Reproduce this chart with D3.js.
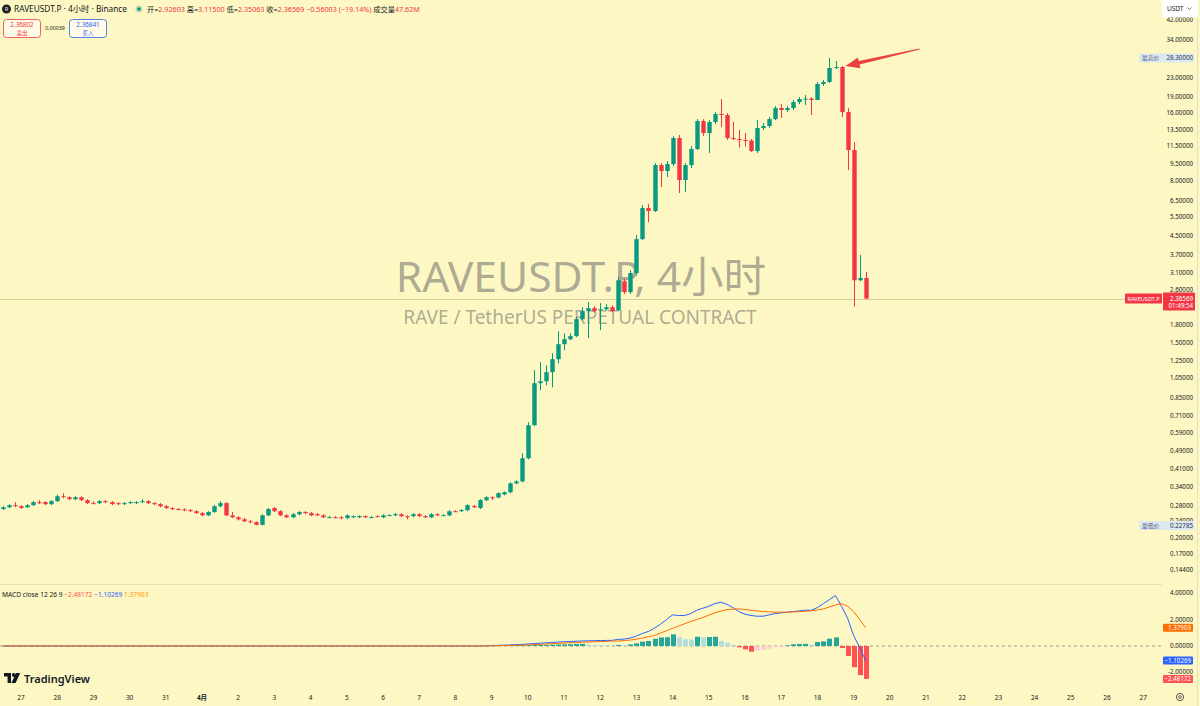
<!DOCTYPE html>
<html>
<head>
<meta charset="utf-8">
<script src="https://cdn.jsdelivr.net/npm/d3@7"></script>
<style>
  body { margin: 0; background: #fdf7c3; }
  svg { display: block; font-family: "Noto Sans", "Noto Sans CJK SC", sans-serif; }
</style>
</head>
<body>
<div id="chart"></div>
<script>
// RAVEUSDT.P 4h candles, 26 Mar 12:00 -> 19 Apr 08:00 (one value per candle)
const open = [
  .270,.275,.281,.278,.275,.281,.290,.290,.284,.293,.308,.305,.299,.305,.296,.287,.287,.293,.290,.287,
  .284,.287,.287,.290,.293,.287,.284,.278,.273,.270,.269,.267,.264,.259,.253,.262,.278,.287,.253,.248,
  .243,.238,.236,.2295,.253,.273,.264,.253,.248,.256,.262,.259,.256,.253,.248,.248,.248,.246,.248,.248,
  .251,.248,.251,.248,.253,.253,.256,.251,.251,.256,.251,.248,.256,.253,.253,.264,.264,.267,.279,.273,
  .296,.305,.304,.314,.321,.352,.359,.456,.641,.989,1.009,1.108,1.267,1.479,1.557,1.607,1.914,2.080,2.144,2.100,
  2.120,2.165,2.100,2.830,2.530,3.080,4.370,6.020,5.840,9.380,8.820,9.480,12.40,8.040,9.380,11.07,14.77,13.05,14.62,15.88,
  15.72,12.40,12.27,12.14,12.08,10.84,13.74,14.03,15.07,16.89,16.55,16.89,17.97,18.54,18.63,18.35,21.64,22.10,25.53,25.79,
  16.20,10.95,2.860,2.92603
];
const high = [
  .278,.284,.290,.281,.284,.293,.296,.293,.296,.314,.318,.308,.308,.308,.299,.293,.296,.296,.293,.290,
  .290,.293,.293,.299,.296,.290,.287,.281,.275,.273,.272,.270,.267,.262,.264,.281,.293,.290,.262,.251,
  .246,.241,.238,.256,.273,.275,.267,.256,.259,.264,.264,.262,.259,.256,.251,.251,.251,.256,.253,.253,
  .253,.251,.253,.256,.256,.259,.259,.253,.259,.259,.253,.259,.259,.256,.267,.267,.270,.284,.281,.299,
  .308,.308,.321,.324,.356,.363,.480,.661,1.130,1.228,1.190,1.348,1.691,1.656,1.656,1.954,2.165,2.281,2.190,2.257,
  2.233,2.210,2.955,2.890,3.170,4.560,6.210,6.270,9.570,9.570,9.780,12.65,12.79,9.570,11.41,15.07,15.07,14.92,16.20,18.54,
  16.04,14.62,13.46,13.05,12.27,14.92,14.46,15.40,17.24,17.60,17.24,18.35,18.92,19.32,18.92,22.10,22.55,28.30,27.43,26.06,
  16.89,11.89,3.710,3.11500
];
const low = [
  .267,.273,.275,.270,.273,.279,.284,.281,.281,.290,.302,.296,.296,.293,.284,.284,.284,.287,.281,.281,
  .281,.284,.284,.287,.284,.281,.275,.270,.267,.267,.264,.262,.256,.251,.251,.259,.275,.251,.246,.240,
  .236,.233,.2285,.22785,.251,.262,.251,.246,.246,.253,.256,.251,.251,.246,.246,.246,.243,.243,.246,.246,
  .246,.246,.248,.246,.251,.251,.248,.243,.248,.248,.246,.246,.251,.251,.251,.262,.262,.264,.273,.270,
  .293,.296,.302,.311,.318,.349,.356,.451,.635,.919,.968,.948,1.214,1.390,1.541,1.590,1.894,1.574,2.060,1.709,
  2.100,2.060,2.080,2.480,2.480,3.010,4.330,5.210,5.780,7.480,8.290,9.290,7.030,7.100,9.100,10.95,12.66,10.62,14.31,13.88,
  12.14,12.14,11.24,11.35,10.73,10.62,13.46,13.74,14.92,15.24,16.20,16.55,17.60,17.42,15.72,18.35,21.20,21.86,25.27,15.40,
  8.910,2.180,2.830,2.35063
];
const close = [
  .275,.281,.278,.273,.281,.290,.287,.284,.293,.308,.305,.299,.305,.296,.287,.286,.293,.290,.284,.285,
  .287,.290,.290,.293,.287,.284,.278,.273,.270,.269,.267,.264,.259,.253,.262,.278,.287,.253,.248,.243,
  .238,.236,.2295,.253,.270,.264,.253,.248,.256,.262,.259,.253,.253,.248,.2485,.2475,.246,.253,.251,.251,
  .248,.2485,.2505,.253,.2535,.256,.251,.2505,.256,.251,.248,.256,.253,.2535,.264,.2635,.267,.281,.275,.296,
  .305,.304,.318,.321,.352,.359,.456,.641,.989,1.009,1.108,1.267,1.479,1.557,1.607,1.914,2.080,2.144,2.080,2.120,
  2.165,2.080,2.860,2.530,3.080,4.370,6.020,5.840,9.380,8.820,9.480,12.40,8.040,9.380,11.07,14.77,13.05,14.62,15.88,15.72,
  12.40,12.27,12.14,12.08,10.84,13.74,14.03,15.07,16.89,16.55,16.89,17.97,18.54,18.63,18.35,21.64,22.10,25.53,25.79,16.20,
  10.95,2.860,2.92572,2.36569
];

const macdLine = [
  0,0,0,0,0,0,0,0,0,0,0,0,0,0,0,0,0,0,0,0, 0,0,0,0,0,0,0,0,0,0,0,0,0,0,0,0,0,0,0,0,
  0,0,0,0,0,0,0,0,0,0,0,0,0,0,0,0,0,0,0,0, 0,0,0,0,0,0,0,0,0,0,0,0,0,0,0,0,0,0,0,0,
  .01,.03,.05,.06,.08,.10,.12,.15,.18,.21,.24,.27,.30,.32,.34,.36,.38,.39,.40,.41,
  .42,.43,.50,.52,.60,.75,.95,1.10,1.35,1.65,2.00,2.35,2.30,2.30,2.45,2.70,2.85,3.00,3.20,3.30,
  3.15,2.90,2.60,2.40,2.30,2.25,2.25,2.35,2.45,2.50,2.55,2.60,2.65,2.70,2.70,2.90,3.20,3.50,3.80,3.00,
  2.10,.80,-.10,-1.10269
];
const signalLine = [
  0,0,0,0,0,0,0,0,0,0,0,0,0,0,0,0,0,0,0,0, 0,0,0,0,0,0,0,0,0,0,0,0,0,0,0,0,0,0,0,0,
  0,0,0,0,0,0,0,0,0,0,0,0,0,0,0,0,0,0,0,0, 0,0,0,0,0,0,0,0,0,0,0,0,0,0,0,0,0,0,0,0,
  0,.01,.02,.03,.04,.05,.06,.08,.10,.12,.15,.17,.20,.22,.24,.26,.28,.30,.32,.34,
  .35,.37,.38,.41,.45,.52,.60,.70,.80,.98,1.15,1.33,1.50,1.68,1.85,2.00,2.15,2.33,2.50,2.63,
  2.75,2.78,2.80,2.75,2.70,2.65,2.60,2.58,2.55,2.55,2.55,2.57,2.60,2.62,2.65,2.72,2.80,2.95,3.10,3.20,
  3.00,2.60,2.00,1.37903
];
const histogram = [
  0,0,0,0,0,0,0,0,0,0,0,0,0,0,0,0,0,0,0,0, 0,0,0,0,0,0,0,0,0,0,0,0,0,0,0,0,0,0,0,0,
  0,0,0,0,0,0,0,0,0,0,0,0,0,0,0,0,0,0,0,0, 0,0,0,0,0,0,0,0,0,0,0,0,0,0,0,0,0,0,0,0,
  .01,.02,.03,.035,.04,.045,.05,.06,.07,.08,.09,.10,.11,.12,.13,.15,.16,.10,.08,.06,
  .05,.04,.08,.07,.12,.20,.33,.38,.55,.65,.66,.88,.65,.50,.49,.70,.65,.68,.70,.38,
  .25,.10,-.10,-.25,-.43,-.35,-.30,-.20,-.08,-.05,.05,.13,.15,.16,.10,.30,.35,.55,.65,-.15,
  -.75,-1.60,-2.20,-2.48172
];

// right axis ticks
const priceTicks = [42, 34, 28, 23, 19, 16, 13.5, 11.5, 9.5, 8, 6.5, 5.5, 4.5, 3.7, 3.1, 2.6, 1.8, 1.5, 1.25, 1.05,
  0.85, 0.71, 0.59, 0.49, 0.41, 0.34, 0.28, 0.24, 0.2, 0.17, 0.144];
const macdTicks = [4, 2, 0, -2];
const highest = 28.3, lowest = 0.22785;

const width = 1200, height = 706;
const plotRight = 1162;
const mainBottom = 584;
const UP = '#089981', DOWN = '#f23645';

const t0 = new Date(Date.UTC(2026, 2, 26, 12));
const times = close.map((d, i) => d3.utcHour.offset(t0, 4 * i));

let svg = d3.select('#chart').append('svg')
  .attr('width', width)
  .attr('height', height);

svg.append('rect').attr('width', width).attr('height', height).attr('fill', '#fdf7c3');

const x = d3.scaleUtc()
  .domain([t0, new Date(Date.UTC(2026, 3, 27))])
  .range([2.9, 1143.2]);
const y = d3.scaleLog().domain([0.144, 28.3]).range([570, 58]);
const ym = d3.scaleLinear().domain([-3, 4.5]).range([685.75, 586.375]);

const defs = svg.append('defs');
defs.append('clipPath').attr('id', 'mainClip')
  .append('rect').attr('x', 0).attr('y', 0).attr('width', plotRight).attr('height', mainBottom);
defs.append('clipPath').attr('id', 'macdClip')
  .append('rect').attr('x', 0).attr('y', mainBottom + 1).attr('width', plotRight).attr('height', 100);

// watermark sits behind the candles
const wm = svg.append('g').attr('fill', 'rgba(105,105,105,0.55)').attr('text-anchor', 'middle');
wm.append('text').attr('x', 581).attr('y', 292).attr('font-size', 42.6).text('RAVEUSDT.P, 4小时');
wm.append('text').attr('x', 580).attr('y', 323.5).attr('font-size', 19).text('RAVE / TetherUS PERPETUAL CONTRACT');

// pane separator
svg.append('line').attr('x1', 0).attr('x2', plotRight).attr('y1', mainBottom + 0.5).attr('y2', mainBottom + 0.5)
  .attr('stroke', '#e6dfa8');

// last price line
svg.append('line').attr('x1', 0).attr('x2', plotRight)
  .attr('y1', Math.round(y(close[close.length - 1])) + 0.5).attr('y2', Math.round(y(close[close.length - 1])) + 0.5)
  .attr('stroke', '#dccf95');

// candles
const candles = svg.append('g').attr('clip-path', 'url(#mainClip)')
  .selectAll('g').data(close).join('g')
  .attr('fill', (d, i) => d >= open[i] ? UP : DOWN)
  .attr('stroke', (d, i) => d >= open[i] ? UP : DOWN);

candles.append('line')
  .attr('x1', (d, i) => Math.round(x(times[i])) + 0.5)
  .attr('x2', (d, i) => Math.round(x(times[i])) + 0.5)
  .attr('y1', (d, i) => y(high[i]))
  .attr('y2', (d, i) => y(low[i]));

candles.append('rect')
  .attr('stroke', 'none')
  .attr('x', (d, i) => Math.round(x(times[i])) + 0.5 - 2.2)
  .attr('width', 4.4)
  .attr('y', (d, i) => y(Math.max(d, open[i])))
  .attr('height', (d, i) => Math.max(1, y(Math.min(d, open[i])) - y(Math.max(d, open[i]))));

// red arrow pointing at the top
const tip = [x(times[139]) + 4, y(open[139]) - 1];
const tail = [tip[0] + 74, tip[1] - 17];
(function () {
  const dx = tail[0] - tip[0], dy = tail[1] - tip[1], len = Math.hypot(dx, dy);
  const ux = dx / len, uy = dy / len, nx = -uy, ny = ux;
  const bx = tip[0] + ux * 14, by = tip[1] + uy * 14;
  const pts = [
    tip,
    [bx + nx * 5.5, by + ny * 5.5],
    [bx + nx * 1.8, by + ny * 1.8],
    [tail[0] + nx * 0.6, tail[1] + ny * 0.6],
    [tail[0] - nx * 0.6, tail[1] - ny * 0.6],
    [bx - nx * 1.8, by - ny * 1.8],
    [bx - nx * 5.5, by - ny * 5.5]
  ];
  svg.append('polygon').attr('points', pts.map(p => p.join(',')).join(' ')).attr('fill', '#e8413f');
})();

// MACD pane
const macdG = svg.append('g').attr('clip-path', 'url(#macdClip)');
macdG.append('line').attr('x1', 0).attr('x2', plotRight).attr('y1', ym(0)).attr('y2', ym(0))
  .attr('stroke', '#9a9a9a').attr('stroke-dasharray', '3,3');

function histColor(d, i) {
  const prev = i > 0 ? histogram[i - 1] : 0;
  if (d >= 0) return d > prev ? '#26a69a' : '#b2dfdb';
  return d < prev ? '#ff5252' : '#ffcdd2';
}
macdG.selectAll('rect.hist').data(histogram).join('rect')
  .attr('class', 'hist')
  .attr('x', (d, i) => Math.round(x(times[i])) + 0.5 - 2.5)
  .attr('width', 5)
  .attr('y', d => Math.min(ym(d), ym(0)))
  .attr('height', d => Math.abs(ym(d) - ym(0)))
  .attr('fill', histColor);

const lineGen = d3.line().x((d, i) => x(times[i])).y(d => ym(d));
macdG.append('path').attr('d', lineGen(macdLine)).attr('fill', 'none').attr('stroke', '#2962ff').attr('stroke-width', 1);
macdG.append('path').attr('d', lineGen(signalLine)).attr('fill', 'none').attr('stroke', '#ff6d00').attr('stroke-width', 1);

// x axis (days)
const days = d3.utcDay.range(new Date(Date.UTC(2026, 2, 27)), new Date(Date.UTC(2026, 3, 28)));
svg.append('g').selectAll('text').data(days).join('text')
  .attr('x', d => x(d))
  .attr('y', 700)
  .attr('text-anchor', 'middle')
  .attr('font-size', 6.5)
  .attr('font-weight', d => d.getUTCDate() === 1 ? 700 : 400)
  .attr('fill', '#131722')
  .text(d => d.getUTCDate() === 1 ? (d.getUTCMonth() + 1) + '月' : d.getUTCDate());

// right price axis
const axisG = svg.append('g').attr('font-size', 6.2).attr('fill', '#131722');
axisG.selectAll('text.p').data(priceTicks).join('text')
  .attr('class', 'p')
  .attr('x', 1193).attr('y', d => y(d) + 2.2)
  .attr('text-anchor', 'end')
  .text(d => d.toFixed(5));
axisG.selectAll('text.m').data(macdTicks).join('text')
  .attr('class', 'm')
  .attr('x', 1193).attr('y', d => ym(d) + (d < 0 ? 1.2 : 2.2))
  .attr('text-anchor', 'end')
  .text(d => d.toFixed(5));

// highest / lowest markers
[[highest, '最高价'], [lowest, '最低价']].forEach(([v, label]) => {
  const g = svg.append('g').attr('transform', `translate(0,${y(v)})`);
  g.append('rect').attr('x', 1139).attr('y', -4.5).attr('width', 55).attr('height', 9).attr('fill', '#dde7f0');
  g.append('text').attr('x', 1142).attr('y', 2.2).attr('font-size', 5.8).attr('fill', '#4a5a7a').text(label);
  g.append('text').attr('x', 1193).attr('y', 2.2).attr('font-size', 6.2).attr('text-anchor', 'end')
    .attr('fill', '#2a3450').text(v.toFixed(5));
});

// last price tags
const lastY = y(close[close.length - 1]);
svg.append('rect').attr('x', 1125).attr('y', lastY - 5).attr('width', 37).attr('height', 10).attr('rx', 1).attr('fill', DOWN);
svg.append('text').attr('x', 1143.5).attr('y', lastY + 2).attr('font-size', 5.6).attr('text-anchor', 'middle')
  .attr('fill', '#fff').text('RAVEUSDT.P');
svg.append('rect').attr('x', 1163).attr('y', lastY - 6).attr('width', 32).attr('height', 18).attr('rx', 1).attr('fill', DOWN);
svg.append('text').attr('x', 1193).attr('y', lastY + 2).attr('font-size', 6.2).attr('text-anchor', 'end')
  .attr('fill', '#fff').text(close[close.length - 1].toFixed(5));
svg.append('text').attr('x', 1193).attr('y', lastY + 9.5).attr('font-size', 6.2).attr('text-anchor', 'end')
  .attr('fill', '#fff').text('01:49:54');

// MACD value tags
[[signalLine, '#ff6d00'], [macdLine, '#2962ff'], [histogram, '#ff5252']].forEach(([arr, c]) => {
  const v = arr[arr.length - 1];
  svg.append('rect').attr('x', 1163).attr('y', ym(v) - 4).attr('width', 30).attr('height', 8).attr('rx', 1).attr('fill', c);
  svg.append('text').attr('x', 1191).attr('y', ym(v) + 2.2).attr('font-size', 6.2).attr('text-anchor', 'end')
    .attr('fill', '#fff').text(v.toFixed(5).replace('-', '−'));
});

// USDT unit button
svg.append('rect').attr('x', 1162).attr('y', 0).attr('width', 36).attr('height', 17.5).attr('fill', '#ffffff');
svg.append('text').attr('x', 1167).attr('y', 11).attr('font-size', 6.5).attr('fill', '#131722').text('USDT');
svg.append('path').attr('d', 'M1187.5,7.5 l2,2 l2,-2').attr('fill', 'none').attr('stroke', '#555').attr('stroke-width', 0.8);
svg.append('line').attr('x1', 1197.5).attr('x2', 1197.5).attr('y1', 17.5).attr('y2', height).attr('stroke', '#e4e0c8');

// header legend
svg.append('circle').attr('cx', 6.5).attr('cy', 9).attr('r', 4.5).attr('fill', '#222');
svg.append('text').attr('x', 6.5).attr('y', 11).attr('font-size', 5).attr('text-anchor', 'middle').attr('fill', '#fff').text('R');
svg.append('text').attr('x', 14).attr('y', 12).attr('font-size', 8.3).attr('fill', '#131722')
  .text('RAVEUSDT.P · 4小时 · Binance');
svg.append('circle').attr('cx', 139).attr('cy', 9).attr('r', 3.5).attr('fill', 'rgba(8,153,129,0.25)');
svg.append('circle').attr('cx', 139).attr('cy', 9).attr('r', 1.8).attr('fill', UP);

const last = close.length - 1;
const chg = close[last] - close[last - 1];
const legendParts = [
  ['开=', '#131722'], [open[last].toFixed(5), DOWN],
  [' 高=', '#131722'], [high[last].toFixed(5), DOWN],
  [' 低=', '#131722'], [low[last].toFixed(5), DOWN],
  [' 收=', '#131722'], [close[last].toFixed(5), DOWN],
  [' −' + Math.abs(chg).toFixed(5) + ' (−' + Math.abs(chg / close[last - 1] * 100).toFixed(2) + '%)', DOWN],
  [' 成交量', '#131722'], ['47.62M', DOWN]
];
svg.append('text').attr('x', 147).attr('y', 11.5).attr('font-size', 7.2)
  .selectAll('tspan').data(legendParts).join('tspan')
  .attr('fill', d => d[1]).text(d => d[0]);

// sell / buy boxes
[[3, '2.36802', '卖出', DOWN], [69, '2.36841', '买入', '#2962ff']].forEach(([bx, v, t, c]) => {
  svg.append('rect').attr('x', bx + 0.5).attr('y', 19.5).attr('width', 37).attr('height', 18).attr('rx', 3)
    .attr('fill', '#fffbe6').attr('stroke', c).attr('stroke-width', 0.8);
  svg.append('text').attr('x', bx + 19).attr('y', 27).attr('font-size', 6.3).attr('text-anchor', 'middle').attr('fill', c).text(v);
  svg.append('text').attr('x', bx + 19).attr('y', 34.5).attr('font-size', 5.5).attr('text-anchor', 'middle').attr('fill', c).text(t);
});
svg.append('text').attr('x', 55).attr('y', 30).attr('font-size', 5.3).attr('text-anchor', 'middle').attr('fill', '#131722').text('0.00039');

// MACD legend
const mLast = histogram.length - 1;
svg.append('text').attr('x', 2).attr('y', 596.5).attr('font-size', 6.6)
  .selectAll('tspan').data([
    ['MACD close 12 26 9 ', '#131722'],
    [histogram[mLast].toFixed(5).replace('-', '−') + ' ', '#ff5252'],
    [macdLine[mLast].toFixed(5).replace('-', '−') + ' ', '#2962ff'],
    [signalLine[mLast].toFixed(5), '#ff9800']
  ]).join('tspan').attr('fill', d => d[1]).text(d => d[0]);

// TradingView logo
const logo = svg.append('g').attr('transform', 'translate(4,673)').attr('fill', '#131722');
logo.append('path').attr('d', 'M0,0 h7 v10 h-3.4 v-6.6 h-3.6 z');
logo.append('circle').attr('cx', 9.8).attr('cy', 2).attr('r', 1.9);
logo.append('path').attr('d', 'M12,0 h4.2 l-4.6,10 h-4.2 z');
svg.append('text').attr('x', 24).attr('y', 683).attr('font-size', 11).attr('font-weight', 600)
  .attr('fill', '#131722').text('TradingView');

// settings gear
svg.append('circle').attr('cx', 1180).attr('cy', 697).attr('r', 3.6).attr('fill', 'none').attr('stroke', '#444').attr('stroke-width', 0.9);
svg.append('circle').attr('cx', 1180).attr('cy', 697).attr('r', 1.3).attr('fill', 'none').attr('stroke', '#444').attr('stroke-width', 0.8);
</script>
</body>
</html>
